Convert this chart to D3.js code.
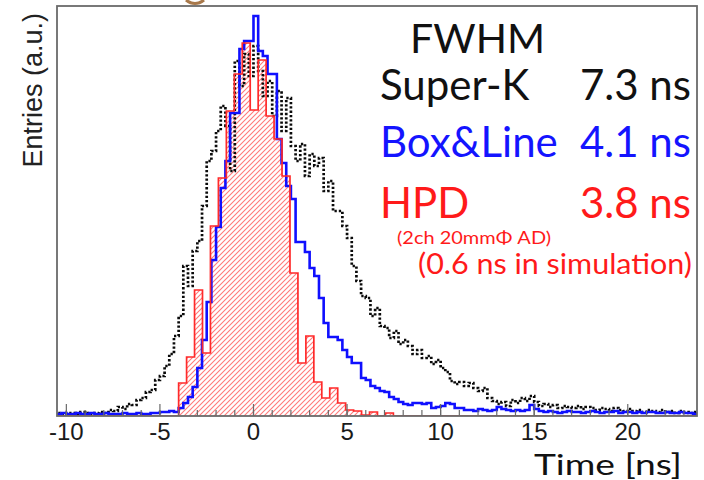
<!DOCTYPE html>
<html><head><meta charset="utf-8">
<script src="https://cdn.jsdelivr.net/npm/d3@7"></script>
<style>html,body{margin:0;padding:0;background:#fff;}svg{display:block;}</style>
</head><body>
<svg id="c" width="704" height="480"></svg>
<script>
// ---- data (Entries in arbitrary units) ----
const xDomain = [-10.5, 23.7];
const fineStart = -10.5, fineWidth = 0.25;   // Super-K & Box&Line binning (ns)
const hpdStart = -4.0, hpdWidth = 0.425;     // HPD binning (ns)
const superK = [
 3,2,3,3,2,4,3,2,3,4,
 3,6,5,9,7,12,11,16,18,24,
 26,36,40,50,62,80,100,150,130,165,
 175,210,255,265,285,310,290,245,355,330,
 362,340,370,345,320,335,300,325,285,318,
 270,255,272,240,262,250,258,225,235,205,
 205,190,178,150,135,120,118,100,108,90,
 88,78,85,72,76,70,62,66,58,60,
 52,56,48,44,35,32,34,30,33,28,
 25,28,18,15,12,14,10,16,13,18,
 15,20,14,10,12,9,11,8,10,9,
 8,10,7,9,8,6,8,7,5,8,
 6,5,7,5,6,4,6,5,4,6,
 4,5,3,5,4,3,4];
const boxLine = [
 2,3,2,2,3,2,2,3,2,2,
 3,2,2,2,3,2,2,3,2,2,
 3,3,4,4,5,4,8,13,19,29,
 48,76,114,156,189,228,255,303,303,367,
 375,375,400,365,360,342,342,277,253,230,
 217,174,174,164,148,140,118,93,79,79,
 76,66,59,53,53,38,36,30,28,25,
 24,19,17,14,12,11,13,13,12,13,
 8,9,10,13,12,8,8,6,6,5,
 7,6,5,6,9,7,6,5,6,5,
 6,11,7,5,4,5,4,3,4,5,
 4,4,3,4,5,4,3,4,4,5,
 3,4,4,3,4,3,4,4,3,3,
 4,3,3,4,3,3,2];
const hpd = [33,59,126,63,190,238,305,342,373,306,356,300,277,240,143,53,80,34,18,28,13,6,5,1,4,0,3];
const majorTicks = [-10,-5,0,5,10,15,20];
const minorTicks = d3.range(-10, 24, 1);
const legendRows = [
  {name:"Super-K",  value:"7.3 ns", color:"#111111"},
  {name:"Box&Line", value:"4.1 ns", color:"#1414ff"},
  {name:"HPD",      value:"3.8 ns", color:"#ff1a1a"}
];
const legendTitle = "FWHM";
const hpdNote = "(2ch 20mmΦ AD)";
const simNote = "(0.6 ns in simulation)";
const xTitle = "Time [ns]";
const yTitle = "Entries (a.u.)";

// ---- layout ----
const L = 57, R = 697, T = 6, B = 416;
const svg = d3.select("#c");
const x = d3.scaleLinear().domain(xDomain).range([L, R]);
const y = d3.scaleLinear().domain([0, 410]).range([B, T]);

const defs = svg.append("defs");
defs.append("clipPath").attr("id","plotclip").append("rect")
  .attr("x",L).attr("y",T).attr("width",R-L).attr("height",B-T);
const pat = defs.append("pattern").attr("id","hatch").attr("patternUnits","userSpaceOnUse")
  .attr("width",5).attr("height",5);
pat.append("path").attr("d","M-1,1 L1,-1 M0,5 L5,0 M4,6 L6,4")
  .attr("stroke","#ff7a7a").attr("stroke-width",1.1);

function pts(vals, start, w){
  const p = [[xDomain[0],0]];
  vals.forEach((v,i)=>p.push([start+i*w, v]));
  p.push([start+vals.length*w, 0]);
  p.push([xDomain[1]+1, 0]);
  return p;
}
const line = d3.line().x(d=>x(d[0])).y(d=>y(d[1])).curve(d3.curveStepAfter);
const area = d3.area().x(d=>x(d[0])).y0(y(0)).y1(d=>y(d[1])).curve(d3.curveStepAfter);

const g = svg.append("g").attr("clip-path","url(#plotclip)");
const hpdPts = pts(hpd, hpdStart, hpdWidth);
g.append("path").attr("d", area(hpdPts)).attr("fill","url(#hatch)");
g.append("path").attr("d", line(pts(superK, fineStart, fineWidth)))
  .attr("fill","none").attr("stroke","#0a0a0a").attr("stroke-width",2.7)
  .attr("stroke-dasharray","2.3,2");
g.append("path").attr("d", line(pts(boxLine, fineStart, fineWidth)))
  .attr("fill","none").attr("stroke","#1010ff").attr("stroke-width",2.6);
g.append("path").attr("d", line(hpdPts))
  .attr("fill","none").attr("stroke","#ff2a2a").attr("stroke-width",1.7);

// frame
svg.append("rect").attr("x",L).attr("y",T).attr("width",R-L).attr("height",B-T)
  .attr("fill","none").attr("stroke","#6a6a6a").attr("stroke-width",1.8);

// ticks (pointing up into plot)
const axG = svg.append("g");
axG.selectAll("line.minor").data(minorTicks).join("line")
  .attr("x1",d=>x(d)).attr("x2",d=>x(d)).attr("y1",B).attr("y2",B-6)
  .attr("stroke","#6a6a6a").attr("stroke-width",1.2);
axG.selectAll("line.major").data(majorTicks).join("line")
  .attr("x1",d=>x(d)).attr("x2",d=>x(d)).attr("y1",B).attr("y2",B-12)
  .attr("stroke","#6a6a6a").attr("stroke-width",1.2);
axG.selectAll("text").data(majorTicks).join("text")
  .attr("x",d=>x(d)).attr("y",440).attr("text-anchor","middle")
  .attr("font-family","Liberation Sans, Arial, sans-serif").attr("font-size",24)
  .attr("fill","#1a1a1a").text(d=>d);

// axis titles
svg.append("text").attr("transform","translate(42,13) rotate(-90)")
  .attr("text-anchor","end").attr("font-family","Liberation Sans, Arial, sans-serif")
  .attr("font-size",27).attr("fill","#222").text(yTitle);
svg.append("text").attr("x",682).attr("y",475).attr("text-anchor","end")
  .attr("font-family","Lato, sans-serif").attr("font-size",29).attr("fill","#111")
  .attr("textLength",148).attr("lengthAdjust","spacingAndGlyphs").text(xTitle);

// legend
const lf = "Lato, sans-serif";
svg.append("text").attr("x",410).attr("y",53).attr("font-family",lf).attr("font-size",41)
  .attr("fill","#111").text(legendTitle);
const baselines = [100,157,218];
legendRows.forEach((r,i)=>{
  svg.append("text").attr("x",380).attr("y",baselines[i]).attr("font-family",lf)
    .attr("font-size",42).attr("fill",r.color).text(r.name);
  svg.append("text").attr("x",691).attr("y",baselines[i]).attr("text-anchor","end")
    .attr("font-family",lf).attr("font-size",42).attr("fill",r.color).text(r.value);
});
svg.append("text").attr("x",397).attr("y",244).attr("font-family",lf).attr("font-size",18)
  .attr("fill","#ff1a1a").attr("textLength",154).attr("lengthAdjust","spacingAndGlyphs").text(hpdNote);
svg.append("text").attr("x",418).attr("y",274)
  .attr("font-family",lf).attr("font-size",28).attr("fill","#ff1a1a")
  .attr("textLength",274).attr("lengthAdjust","spacingAndGlyphs").text(simNote);

// cut-off mark at top
svg.append("path").attr("d","M186,0 Q195,7 204,0").attr("fill","none")
  .attr("stroke","#a8784a").attr("stroke-width",3);
</script>
</body></html>
